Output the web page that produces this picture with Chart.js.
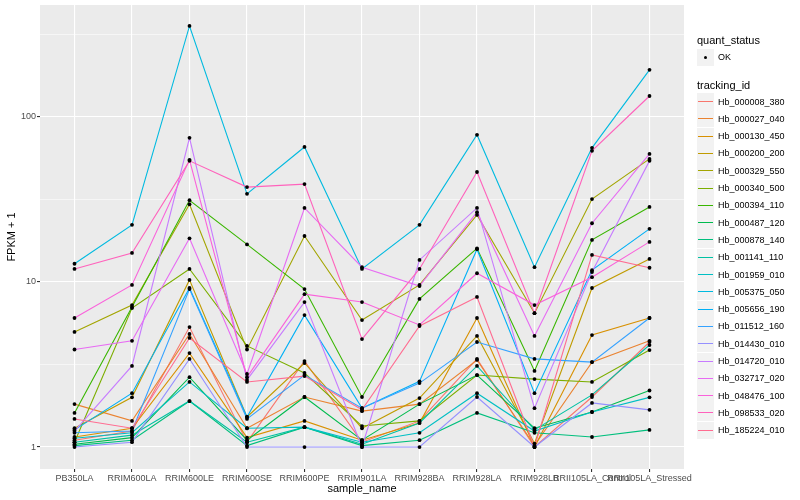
<!DOCTYPE html>
<html>
<head>
<meta charset="utf-8">
<script src="https://cdn.jsdelivr.net/npm/chart.js@4.4.0/dist/chart.umd.min.js"></script>
<style>
  body { margin: 0; background: #fff; font-family: "Liberation Sans", Arial, sans-serif; }
  #wrap { position: relative; width: 800px; height: 500px; }
  #legend { position: absolute; left: 0; top: 0; width: 800px; height: 500px; pointer-events: none; }
  .lg-title { position: absolute; left: 697px; font-size: 11px; color: #000; line-height: 12px; }
  .lg-key { position: absolute; left: 697px; width: 17px; height: 17px; background: #F2F2F2; }
  .lg-line { position: absolute; left: 1px; right: 1px; top: 8px; height: 1px; }
  .lg-dot { position: absolute; left: 7px; top: 7px; width: 3px; height: 3px; border-radius: 2px; background: #000; }
  .lg-text { position: absolute; left: 718px; font-size: 9px; color: #000; line-height: 10px; white-space: nowrap; }
</style>
</head>
<body>
<div id="wrap">
  <canvas id="chart" width="800" height="500"></canvas>
  <div id="legend"></div>
</div>
<script>
// категории по оси X
const categories = ["PB350LA", "RRIM600LA", "RRIM600LE", "RRIM600SE", "RRIM600PE", "RRIM901LA",
                    "RRIM928BA", "RRIM928LA", "RRIM928LB", "RRII105LA_Control", "RRII105LA_Stressed"];

const trackingIds = ["Hb_000008_380", "Hb_000027_040", "Hb_000130_450", "Hb_000200_200", "Hb_000329_550",
                     "Hb_000340_500", "Hb_000394_110", "Hb_000487_120", "Hb_000878_140", "Hb_001141_110",
                     "Hb_001959_010", "Hb_005375_050", "Hb_005656_190", "Hb_011512_160", "Hb_014430_010",
                     "Hb_014720_010", "Hb_032717_020", "Hb_048476_100", "Hb_098533_020", "Hb_185224_010"];

// FPKM + 1 по образцам
const hb_000008_380 = [1.10, 1.25, 5.33, 1.07, 3.32, 1.07, 1.44, 3.42, 1.00, 2.01, 4.33];
const hb_000027_040 = [1.82, 1.44, 4.84, 1.30, 2.01, 1.65, 1.82, 3.37, 1.02, 3.27, 4.40];
const hb_000130_450 = [1.15, 1.30, 3.71, 1.14, 1.44, 1.10, 1.40, 6.05, 1.00, 4.77, 6.05];
const hb_000200_200 = [1.30, 2.00, 10.3, 1.52, 3.23, 1.30, 1.98, 4.71, 1.05, 9.20, 13.8];
const hb_000329_550 = [4.98, 7.25, 29.6, 3.90, 19.0, 5.88, 9.60, 25.5, 6.47, 31.8, 55.7];
const hb_000340_500 = [1.07, 6.95, 12.0, 4.10, 2.81, 1.34, 1.44, 2.73, 2.58, 2.48, 3.87];
const hb_000394_110 = [1.61, 7.05, 31.3, 16.9, 9.06, 2.01, 7.90, 16.0, 2.89, 18.0, 28.5];
const hb_000487_120 = [1.04, 1.14, 2.65, 1.10, 2.01, 1.10, 1.82, 2.73, 1.30, 1.63, 2.20];
const hb_000878_140 = [1.02, 1.10, 1.90, 1.02, 1.32, 1.02, 1.10, 1.61, 1.22, 1.15, 1.27];
const hb_001141_110 = [1.07, 1.18, 1.90, 1.07, 1.32, 1.04, 1.40, 3.10, 1.27, 2.07, 4.15];
const hb_001959_010 = [1.13, 1.22, 2.48, 1.30, 1.32, 1.07, 1.22, 2.12, 1.25, 1.63, 2.00];
const hb_005375_050 = [12.9, 22.2, 356, 34.2, 65.8, 12.0, 22.2, 78.0, 12.3, 65.0, 193];
const hb_005656_190 = [1.27, 2.12, 9.20, 1.52, 6.30, 1.72, 2.50, 15.8, 2.12, 11.8, 21.0];
const hb_011512_160 = [1.22, 1.25, 9.06, 1.48, 2.73, 1.72, 2.44, 4.33, 3.42, 3.27, 6.05];
const hb_014430_010 = [1.00, 1.07, 3.42, 1.00, 1.00, 1.00, 1.00, 2.01, 1.00, 1.85, 1.68];
const hb_014720_010 = [1.25, 3.10, 74.8, 2.55, 7.56, 1.00, 13.6, 28.1, 1.72, 11.5, 54.2];
const hb_032717_020 = [3.90, 4.40, 18.4, 2.77, 28.1, 12.3, 9.45, 26.5, 4.71, 22.7, 59.7];
const hb_048476_100 = [6.05, 9.60, 55.0, 2.65, 8.44, 7.56, 5.49, 11.3, 7.25, 10.7, 17.5];
const hb_098533_020 = [12.0, 15.0, 54.2, 37.6, 39.2, 4.51, 12.0, 46.4, 6.47, 62.4, 134];
const hb_185224_010 = [1.48, 1.30, 4.58, 2.48, 2.69, 1.68, 5.41, 8.12, 1.00, 14.6, 12.2];

const seriesValues = [hb_000008_380, hb_000027_040, hb_000130_450, hb_000200_200, hb_000329_550,
                      hb_000340_500, hb_000394_110, hb_000487_120, hb_000878_140, hb_001141_110,
                      hb_001959_010, hb_005375_050, hb_005656_190, hb_011512_160, hb_014430_010,
                      hb_014720_010, hb_032717_020, hb_048476_100, hb_098533_020, hb_185224_010];

// деления оси Y (лог-шкала)
const yMajorTicks = [1, 10, 100];
const yMinorTicks = [3.1623, 31.623, 316.23];

// палитра ggplot hue_pal()(20)
const palette = ["#F8766D", "#EA8331", "#D89000", "#C09B00", "#A3A500", "#7CAE00", "#39B600", "#00BB4E",
                 "#00BF7D", "#00C1A3", "#00BFC4", "#00BAE0", "#00B0F6", "#35A2FF", "#9590FF", "#C77CFF",
                 "#E76BF3", "#FA62DB", "#FF62BC", "#FF6C91"];

const lineSets = seriesValues.map((vals, i) => ({
    label: trackingIds[i],
    data: vals.map((v, j) => ({ x: j, y: v })),
    borderColor: palette[i],
    borderWidth: 1.1,
    pointRadius: 0,
    tension: 0,
    fill: false,
    order: 20 - i
}));

// точки рисуем поверх всех линий
const pointSet = {
    type: 'scatter',
    label: 'OK',
    data: seriesValues.flatMap(vals => vals.map((v, j) => ({ x: j, y: v }))),
    pointRadius: 1.9,
    pointBackgroundColor: '#000',
    pointBorderWidth: 0,
    showLine: false,
    order: -1
};

const panelBg = {
    id: 'panelBg',
    beforeDraw(chart) {
        const { ctx, chartArea: a } = chart;
        ctx.save();
        ctx.fillStyle = '#EBEBEB';
        ctx.fillRect(a.left, a.top, a.right - a.left, a.bottom - a.top);
        ctx.restore();
    }
};

const isMajor = v => yMajorTicks.some(m => Math.abs(m - v) < 1e-6);

new Chart(document.getElementById('chart'), {
    type: 'line',
    data: { datasets: [...lineSets, pointSet] },
    plugins: [panelBg],
    options: {
        responsive: false,
        animation: false,
        devicePixelRatio: 1,
        layout: { padding: { left: 0, top: 5, right: 116, bottom: 0 } },
        plugins: { legend: { display: false }, tooltip: { enabled: false } },
        scales: {
            x: {
                type: 'linear',
                bounds: 'data',
                min: -0.6,
                max: 10.6,
                afterFit: s => { s.height = 31; s.paddingLeft = 0; s.paddingRight = 0; },
                afterBuildTicks: s => { s.ticks = categories.map((c, i) => ({ value: i })); },
                border: { display: false },
                grid: { color: '#FFFFFF', lineWidth: 1.1, tickLength: 3, tickColor: '#333333' },
                ticks: {
                    autoSkip: false, maxRotation: 0, minRotation: 0, padding: 1,
                    color: '#4D4D4D', font: { family: 'Liberation Sans', size: 9 },
                    callback: v => categories[v]
                },
                title: {
                    display: true, text: 'sample_name', color: '#000',
                    font: { family: 'Liberation Sans', size: 11 }, padding: { top: 0, bottom: 4 }
                }
            },
            y: {
                type: 'logarithmic',
                bounds: 'data',
                min: 0.736,
                max: 477,
                afterFit: s => { s.width = 40; s.paddingTop = 0; s.paddingBottom = 0; },
                afterBuildTicks: s => {
                    s.ticks = [...yMajorTicks, ...yMinorTicks].sort((a, b) => a - b).map(v => ({ value: v }));
                },
                border: { display: false },
                grid: {
                    color: '#FFFFFF',
                    lineWidth: c => (c.tick && isMajor(c.tick.value)) ? 1.1 : 0.55,
                    tickLength: 3,
                    tickColor: c => (c.tick && isMajor(c.tick.value)) ? '#333333' : 'rgba(0,0,0,0)'
                },
                ticks: {
                    padding: 1, color: '#4D4D4D', font: { family: 'Liberation Sans', size: 9 },
                    callback: v => isMajor(v) ? String(v) : ''
                },
                title: {
                    display: true, text: 'FPKM + 1', color: '#000',
                    font: { family: 'Liberation Sans', size: 11 }, padding: { top: 5, bottom: 0 }
                }
            }
        }
    }
});

// легенда справа, как у ggplot
function renderLegend() {
    const el = document.getElementById('legend');
    let html = '';
    html += `<div class="lg-title" style="top:34px">quant_status</div>`;
    html += `<div class="lg-key" style="top:49px"><div class="lg-dot"></div></div>`;
    html += `<div class="lg-text" style="top:52px">OK</div>`;
    html += `<div class="lg-title" style="top:79px">tracking_id</div>`;
    trackingIds.forEach((id, i) => {
        const top = 93 + i * 17.3;
        html += `<div class="lg-key" style="top:${top}px"><div class="lg-line" style="background:${palette[i]}"></div></div>`;
        html += `<div class="lg-text" style="top:${top + 3.5}px">${id}</div>`;
    });
    el.innerHTML = html;
}
renderLegend();
</script>
</body>
</html>
